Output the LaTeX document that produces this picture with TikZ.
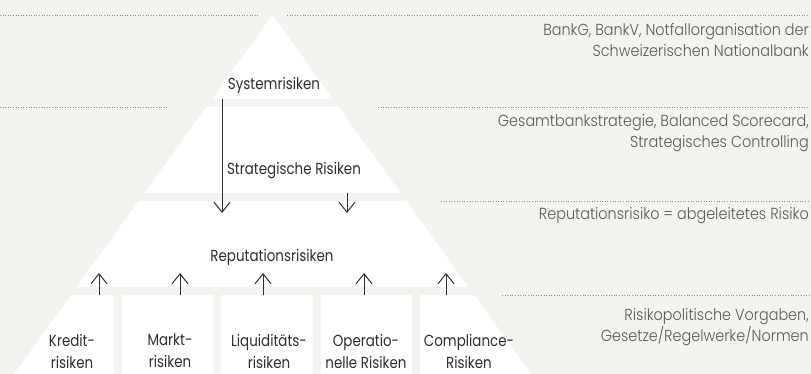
\documentclass[tikz,border=0pt]{standalone}
\usepackage{fontspec}
\setmainfont{Poppins Light}
\newfontfamily\labelfont{Poppins}[FakeStretch=0.84]
\newfontfamily\remarkfont{Poppins Light}[FakeStretch=0.9]
\usepackage{tikz}
\usetikzlibrary{positioning, arrows.meta}
\usepackage{xcolor}

\definecolor{paper}{HTML}{F4F3EF}
\definecolor{ink}{HTML}{2E2E2E}
\definecolor{note}{HTML}{5A5A5A}
\definecolor{dots}{HTML}{8A8A8A}

\tikzset{
  layer/.style={fill=white, draw=none},
  risk/.style={inner sep=0pt, text=ink, align=center,
    font=\labelfont\fontsize{16}{22}\selectfont},
  remark/.style={inner sep=0pt, text=note, align=right, anchor=east,
    font=\remarkfont\fontsize{16}{21}\selectfont},
  guide/.style={draw=dots, line width=0.8pt, dash pattern=on 0.8pt off 1.8pt},
  flow/.style={draw=ink, line width=1pt, -{Straight Barb[length=10pt, width=16pt]}}
}

\begin{document}
\begin{tikzpicture}[x=1pt, y=-1pt]
    \fill[paper] (0,0) rectangle (811,374);
    \useasboundingbox (0,0) rectangle (811,374);

    %pyramid layers
    \fill[layer] (272.5,15) -- (332.9,99) -- (212.1,99) -- cycle;
    \fill[layer] (206.3,107) -- (338.7,107) -- (400.7,193) -- (144.3,193) -- cycle;
    \fill[layer] (138.6,201) -- (406.4,201) -- (468.3,287) -- (76.7,287) -- cycle;
    \begin{scope}
      \clip (70.9,295) -- (474.1,295) -- (531,374) -- (14,374) -- cycle;
      \foreach \a/\b in {0/114, 122/213, 221/313, 321/412, 420/540}
        \fill[layer] (\a,295) rectangle (\b,374);
    \end{scope}

    %guide lines
    \draw[guide] (0,15) -- (258,15);
    \draw[guide] (287,15) -- (809,15);
    \draw[guide] (0,107) -- (168,107);
    \draw[guide] (378,107) -- (809,107);
    \draw[guide] (441,201) -- (809,201);
    \draw[guide] (502,295) -- (809,295);

    %risk labels
    \node (sys) [risk] at (274,85) {Systemrisiken};
    \node (strat) [risk] at (294,171) {Strategische Risiken};
    \node (rep) [risk] at (272,257) {Reputationsrisiken};
    \node (kredit) [risk] at (72,351) {Kredit-\\risiken};
    \node (markt) [risk] at (170,351) {Markt-\\risiken};
    \node (liqui) [risk] at (269,351) {Liquiditäts-\\risiken};
    \node (oprisk) [risk] at (366,351) {Operatio-\\nelle Risiken};
    \node (compl) [risk] at (469,351) {Compliance-\\Risiken};

    %remarks
    \node (bank) [remark] at (809,40.5) {BankG, BankV, Notfallorganisation der\\Schweizerischen Nationalbank};
    \node (gesamt) [remark] at (809,133.5) {Gesamtbankstrategie, Balanced Scorecard,\\Strategisches Controlling};
    \node (reprisk) [remark] at (809,216) {Reputationsrisiko = abgeleitetes Risiko};
    \node (vorgaben) [remark] at (809,327) {Risikopolitische Vorgaben,\\Gesetze/Regelwerke/Normen};

    %influence arrows
    \coordinate (sysout) at (222,99);
    \coordinate (stratout) at (347,193);
    \coordinate (repin1) at (222,213);
    \coordinate (repin2) at (347,213);
    \draw[flow] (sysout) -- (repin1);
    \draw[flow] (stratout) -- (repin2);
    \foreach \n/\x in {kredit/99, markt/180, liqui/263, oprisk/364, compl/446} {
      \coordinate (\n top) at (\x,295);
      \coordinate (\n up) at (\x,273);
      \draw[flow] (\n top) -- (\n up);
    }
\end{tikzpicture}
\end{document}
